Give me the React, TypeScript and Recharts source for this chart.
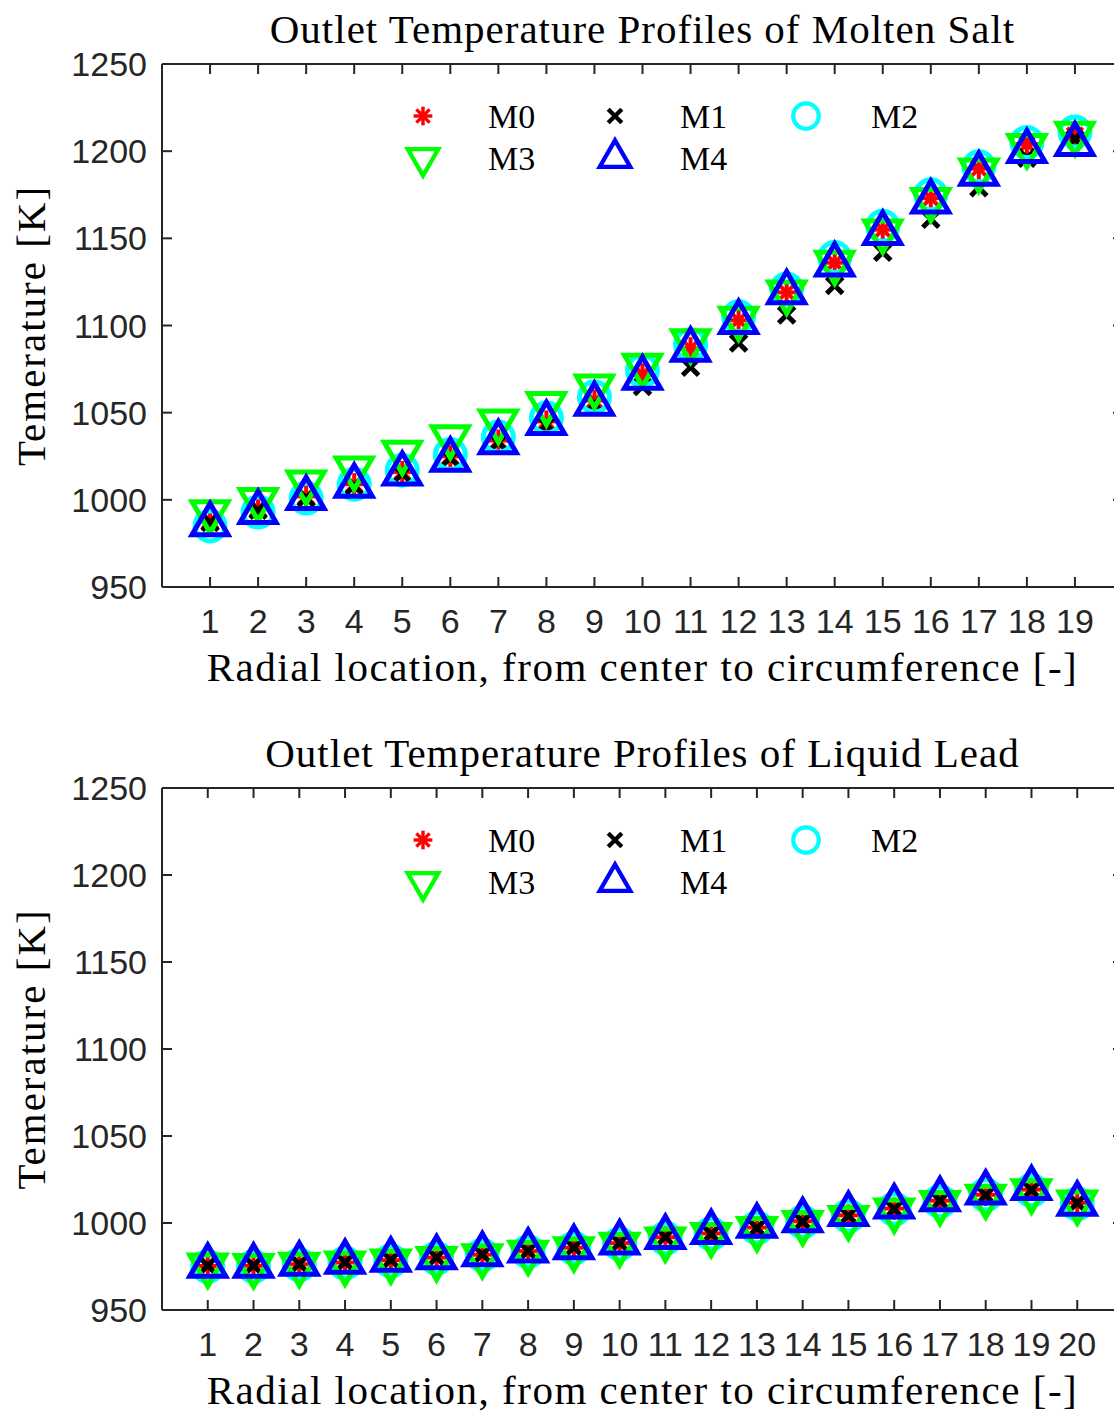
import React from "react";
import { ScatterChart, Scatter, XAxis, YAxis, Legend } from "recharts";

// radial positions
const SALT_X = [1, 2, 3, 4, 5, 6, 7, 8, 9, 10, 11, 12, 13, 14, 15, 16, 17, 18, 19];
const LEAD_X = [1, 2, 3, 4, 5, 6, 7, 8, 9, 10, 11, 12, 13, 14, 15, 16, 17, 18, 19, 20];
const Y_TICKS = [950, 1000, 1050, 1100, 1150, 1200, 1250];

// molten salt outlet temperatures [K]
const SALT_M0 = [988, 995, 1002, 1009, 1016, 1025, 1034, 1045, 1057, 1072, 1087, 1103, 1119, 1136, 1155, 1173, 1190, 1204, 1209];
const SALT_M1 = [987, 994, 1001, 1008, 1015, 1024, 1033, 1043, 1055, 1065, 1076, 1090, 1106, 1123, 1142, 1161, 1179, 1196, 1207];
const SALT_M2 = [985, 993, 1001, 1009, 1017, 1026, 1036, 1047, 1059, 1074, 1089, 1105, 1121, 1139, 1157, 1175, 1191, 1205, 1211];
const SALT_M3 = [993, 1000, 1010, 1018, 1027, 1036, 1045, 1055, 1065, 1077, 1091, 1104, 1119, 1136, 1154, 1172, 1189, 1203, 1210];
const SALT_M4 = [986, 993, 1001, 1008, 1015, 1023, 1033, 1044, 1055, 1070, 1086, 1102, 1119, 1135, 1153, 1171, 1187, 1200, 1204];

// liquid lead outlet temperatures [K]
const LEAD_M0 = [975.3, 975.4, 976.3, 977.3, 978.6, 980.1, 981.8, 983.8, 985.8, 988.4, 991.8, 994.0, 997.4, 1001.0, 1004.4, 1008.3, 1012.8, 1016.2, 1019.2, 1011.6];
const LEAD_M1 = [975.5, 975.5, 976.4, 977.4, 978.7, 980.2, 981.9, 983.9, 985.9, 988.5, 991.9, 993.7, 997.1, 1000.8, 1004.2, 1008.0, 1012.8, 1016.0, 1019.0, 1011.5];
const LEAD_M2 = [975.0, 975.0, 976.0, 977.0, 978.3, 979.8, 981.5, 983.5, 985.5, 988.0, 991.2, 993.8, 997.2, 1000.6, 1004.0, 1008.0, 1012.4, 1016.2, 1018.8, 1011.0];
const LEAD_M3 = [975.6, 975.3, 976.0, 976.8, 978.0, 979.4, 981.0, 983.0, 985.0, 987.6, 990.6, 993.2, 996.6, 1000.0, 1003.0, 1007.2, 1011.6, 1015.2, 1018.3, 1011.8];
const LEAD_M4 = [975.4, 975.4, 976.5, 977.6, 978.8, 980.3, 982.0, 984.1, 986.0, 988.8, 991.9, 994.7, 998.3, 1001.5, 1005.1, 1009.4, 1013.6, 1017.4, 1020.0, 1011.0];

const NAMES = ["M0", "M1", "M2", "M3", "M4"];
const COLORS = ["#ff0000", "#000000", "#00ffff", "#00ff00", "#0000ff"];
const KINDS = ["asterisk", "cross", "circle", "down", "up"];

const SERIF = "'Liberation Serif', 'Times New Roman', serif";
const SANS = "'Liberation Sans', Arial, sans-serif";
const AXIS = "#262626";

function Marker({ kind, color, cx, cy, s = 1 }: any) {
  if (kind === "asterisk") {
    const r = 11 * s;
    const d = r * 0.707;
    return (
      <g stroke={color} strokeWidth={4 * s}>
        <line x1={cx - r} y1={cy} x2={cx + r} y2={cy} />
        <line x1={cx} y1={cy - r} x2={cx} y2={cy + r} />
        <line x1={cx - d} y1={cy - d} x2={cx + d} y2={cy + d} />
        <line x1={cx - d} y1={cy + d} x2={cx + d} y2={cy - d} />
      </g>
    );
  }
  if (kind === "cross") {
    const r = 8 * s;
    return (
      <g stroke={color} strokeWidth={5 * s}>
        <line x1={cx - r} y1={cy - r} x2={cx + r} y2={cy + r} />
        <line x1={cx - r} y1={cy + r} x2={cx + r} y2={cy - r} />
      </g>
    );
  }
  if (kind === "circle") {
    return <circle cx={cx} cy={cy} r={15 * s} fill="none" stroke={color} strokeWidth={5 * s} />;
  }
  const L = 36 * s;
  const h = L * 0.866;
  const pts =
    kind === "up"
      ? `${cx},${cy - (2 * h) / 3} ${cx - L / 2},${cy + h / 3} ${cx + L / 2},${cy + h / 3}`
      : `${cx},${cy + (2 * h) / 3} ${cx - L / 2},${cy - h / 3} ${cx + L / 2},${cy - h / 3}`;
  return <polygon points={pts} fill="none" stroke={color} strokeWidth={5 * s} strokeLinejoin="miter" />;
}

// legend laid out like MATLAB: 3 columns, 2 rows
const LegendBox = () => {
  const cols = [43, 235, 426];
  const rows = [30, 72];
  return (
    <svg width={560} height={100}>
      {NAMES.map((n, i) => {
        const x = cols[i % 3];
        const y = rows[Math.floor(i / 3)];
        return (
          <g key={n}>
            <Marker kind={KINDS[i]} color={COLORS[i]} cx={x} cy={y} s={0.85} />
            <text x={x + 65} y={y + 12} fontFamily={SERIF} fontSize={34} fill="#000">
              {n}
            </text>
          </g>
        );
      })}
    </svg>
  );
};

// the axes box runs a little past the right edge of the picture, as in the original figure
function Panel({ title, xs, values, xMax, height, top, bottom }: any) {
  const tickStyle = { fill: AXIS, fontSize: 34, fontFamily: SANS };
  const labelFont = { fill: "#000", fontSize: 41, fontFamily: SERIF };
  return (
    <ScatterChart width={1124} height={height} margin={{ top: top - 1, right: 0, bottom: bottom - 100, left: 22 }}>
      <XAxis
        xAxisId="b"
        dataKey="x"
        type="number"
        domain={[0, xMax]}
        ticks={xs}
        interval={0}
        allowDataOverflow
        height={100}
        tickSize={-10}
        tickMargin={32}
        tick={tickStyle}
        stroke={AXIS}
        strokeWidth={2}
        label={{
          value: "Radial location, from center to circumference [-]",
          position: "insideBottom",
          offset: 6,
          ...labelFont,
          style: { letterSpacing: "1.5px" },
        }}
      />
      <XAxis
        xAxisId="t"
        orientation="top"
        dataKey="x"
        type="number"
        domain={[0, xMax]}
        ticks={xs}
        interval={0}
        allowDataOverflow
        height={1}
        tickSize={-10}
        tickFormatter={() => ""}
        stroke={AXIS}
        strokeWidth={2}
        label={{ value: title, position: "top", offset: 20, ...labelFont, style: { letterSpacing: "1px" } }}
      />
      <YAxis
        yAxisId="l"
        dataKey="y"
        type="number"
        domain={[950, 1250]}
        ticks={Y_TICKS}
        interval={0}
        allowDataOverflow
        width={140}
        tickSize={-10}
        tickMargin={25}
        tick={tickStyle}
        stroke={AXIS}
        strokeWidth={2}
        label={{
          value: "Temerature [K]",
          angle: -90,
          position: "insideLeft",
          offset: 8,
          ...labelFont,
          style: { textAnchor: "middle", letterSpacing: "2px" },
        }}
      />
      <YAxis
        yAxisId="r"
        orientation="right"
        dataKey="y"
        type="number"
        domain={[950, 1250]}
        ticks={Y_TICKS}
        interval={0}
        allowDataOverflow
        width={1}
        tickSize={-10}
        tickFormatter={() => ""}
        stroke={AXIS}
        strokeWidth={2}
      />
      {/* invisible series so the box axes (top/right) get drawn */}
      <Scatter
        xAxisId="t"
        yAxisId="r"
        data={xs.map((x: number, j: number) => ({ x, y: values[0][j] }))}
        isAnimationActive={false}
        legendType="none"
        shape={() => <g />}
      />
      {values.map((vals: number[], i: number) => (
        <Scatter
          key={NAMES[i]}
          name={NAMES[i]}
          xAxisId="b"
          yAxisId="l"
          data={xs.map((x: number, j: number) => ({ x, y: vals[j] }))}
          isAnimationActive={false}
          shape={(p: any) => <Marker kind={KINDS[i]} color={COLORS[i]} cx={p.cx} cy={p.cy} />}
        />
      ))}
      <Legend
        layout="horizontal"
        verticalAlign="middle"
        content={() => <LegendBox />}
        wrapperStyle={{ left: 380, top: top + 22, width: 560, height: 100 }}
      />
    </ScatterChart>
  );
}

export default function App() {
  return (
    <div style={{ position: "absolute", left: 0, top: 0, width: 1114, height: 1414, background: "#fff", overflow: "hidden" }}>
      <Panel
        title="Outlet Temperature Profiles of Molten Salt"
        xs={SALT_X}
        values={[SALT_M0, SALT_M1, SALT_M2, SALT_M3, SALT_M4]}
        xMax={20}
        height={722}
        top={64}
        bottom={135}
      />
      <Panel
        title="Outlet Temperature Profiles of Liquid Lead"
        xs={LEAD_X}
        values={[LEAD_M0, LEAD_M1, LEAD_M2, LEAD_M3, LEAD_M4]}
        xMax={21}
        height={692}
        top={66}
        bottom={104}
      />
    </div>
  );
}
